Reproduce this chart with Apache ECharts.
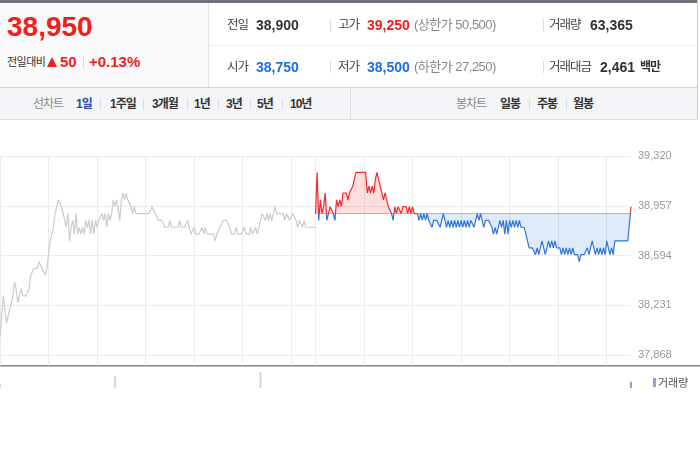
<!DOCTYPE html>
<html><head><meta charset="utf-8">
<script src="https://cdn.jsdelivr.net/npm/echarts@6.0.0/dist/echarts.min.js"></script>
<style>
html,body{margin:0;padding:0;width:700px;height:450px;overflow:hidden;background:#fff;font-family:"Liberation Sans","Noto Sans CJK KR",sans-serif;}
#chart{position:absolute;left:0;top:0;width:700px;height:450px;}
.b{position:absolute;box-sizing:border-box;}
.t{position:absolute;white-space:nowrap;line-height:20px;height:20px;}
.k{font-size:12.5px;color:#444;letter-spacing:-1px;}
.n{font-size:14px;font-weight:bold;color:#333;}
.g{font-size:13px;color:#888;letter-spacing:-0.5px;}
.tab{font-size:12px;font-weight:bold;color:#333;letter-spacing:-1px;top:94px;}
.sep{position:absolute;width:1px;background:#dcdcdc;}
.red{color:#f21d1d;}
.blue{color:#1a6fe6;}
</style></head><body>
<div id="chart"></div>

<div class="b" style="left:0;top:0;width:698px;height:3px;background:#70737b"></div>
<div class="b" style="left:0;top:3px;width:208px;height:85px;background:#fafafa"></div>
<div class="b" style="left:208px;top:3px;width:1px;height:85px;background:#e3e3e3"></div>
<div class="b" style="left:209px;top:45px;width:488px;height:1px;background:#eee"></div>
<div class="b" style="left:697px;top:0;width:1px;height:120px;background:#ccc"></div>
<div class="b" style="left:0;top:87px;width:697px;height:33px;background:#f4f5f8;border-top:1px solid #d5d5d8;border-bottom:1px solid #dcdde0"></div>
<div class="b" style="left:350px;top:88px;width:1px;height:31px;background:#dcdde0"></div>

<div class="t red" style="left:7px;top:11px;font-size:28px;font-weight:bold;line-height:32px;height:32px;">38,950</div>
<div class="t" style="left:7px;top:52px;font-size:11px;color:#333;letter-spacing:-0.5px;">전일대비</div>
<div class="b" style="left:47px;top:57px;width:0;height:0;border-left:5.5px solid transparent;border-right:5.5px solid transparent;border-bottom:10px solid #f21d1d;"></div>
<div class="t red" style="left:60px;top:52px;font-size:15px;font-weight:bold;">50</div>
<div class="sep" style="left:83px;top:57px;height:11px;"></div>
<div class="t red" style="left:89px;top:52px;font-size:15px;font-weight:bold;">+0.13%</div>

<div class="t k" style="left:227px;top:15px;">전일</div>
<div class="t n" style="left:256px;top:15px;">38,900</div>
<div class="sep" style="left:330px;top:19px;height:12px;"></div>
<div class="t k" style="left:338px;top:15px;">고가</div>
<div class="t n red" style="left:367px;top:15px;">39,250</div>
<div class="t g" style="left:414px;top:15px;">(상한가 50,500)</div>
<div class="sep" style="left:543px;top:19px;height:12px;"></div>
<div class="t k" style="left:549px;top:15px;">거래량</div>
<div class="t n" style="left:590px;top:15px;">63,365</div>

<div class="t k" style="left:227px;top:57px;">시가</div>
<div class="t n blue" style="left:256px;top:57px;">38,750</div>
<div class="sep" style="left:330px;top:61px;height:12px;"></div>
<div class="t k" style="left:338px;top:57px;">저가</div>
<div class="t n blue" style="left:367px;top:57px;">38,500</div>
<div class="t g" style="left:414px;top:57px;">(하한가 27,250)</div>
<div class="sep" style="left:543px;top:61px;height:12px;"></div>
<div class="t k" style="left:549px;top:57px;">거래대금</div>
<div class="t n" style="left:600px;top:57px;">2,461</div>
<div class="t" style="left:640px;top:57px;font-size:12px;font-weight:bold;color:#333;letter-spacing:-1px;">백만</div>

<div class="t tab" style="left:33px;color:#888;font-weight:normal;">선차트</div>
<div class="t tab" style="left:76px;color:#2b4ba7;">1일</div>
<div class="sep" style="left:100px;top:99px;height:11px;"></div>
<div class="t tab" style="left:110px;">1주일</div>
<div class="sep" style="left:143px;top:99px;height:11px;"></div>
<div class="t tab" style="left:152px;">3개월</div>
<div class="sep" style="left:187px;top:99px;height:11px;"></div>
<div class="t tab" style="left:194px;">1년</div>
<div class="sep" style="left:218px;top:99px;height:11px;"></div>
<div class="t tab" style="left:226px;">3년</div>
<div class="sep" style="left:250px;top:99px;height:11px;"></div>
<div class="t tab" style="left:257px;">5년</div>
<div class="sep" style="left:282px;top:99px;height:11px;"></div>
<div class="t tab" style="left:290px;">10년</div>

<div class="t tab" style="left:456px;color:#888;font-weight:normal;">봉차트</div>
<div class="t tab" style="left:500px;">일봉</div>
<div class="sep" style="left:529px;top:99px;height:11px;"></div>
<div class="t tab" style="left:537px;">주봉</div>
<div class="sep" style="left:566px;top:99px;height:11px;"></div>
<div class="t tab" style="left:573px;">월봉</div>

<script>
// ---- data ----
const prevClose = 38900;
const yTicks = [37868, 38231, 38594, 38957, 39320];

// previous session, one close every 2 minutes 09:00 .. 15:30
const prevDayPrices = [
38000,38150,38300,38200,38100,38100,38200,38250,38300,38400,
38350,38250,38300,38350,38300,38300,38300,38300,38350,38450,
38450,38500,38500,38500,38550,38550,38500,38500,38450,38500,
38600,38700,38700,38800,38900,38950,39000,39000,38950,38900,
38850,38800,38900,38700,38800,38850,38750,38900,38750,38800,
38750,38800,38750,38850,38800,38850,38750,38850,38750,38850,
38800,38850,38850,38900,38850,38900,38800,38900,38850,38900,
39000,38950,39000,38950,38850,39000,39050,39000,39050,39000,
39000,38950,38900,38950,38900,38900,38900,38900,38900,38900,
38900,38900,38900,38900,38950,38950,38900,38900,38850,38850,
38850,38850,38800,38800,38800,38850,38800,38800,38800,38800,
38800,38850,38800,38800,38800,38800,38850,38800,38750,38750,
38800,38750,38750,38750,38750,38800,38750,38800,38750,38750,
38750,38750,38750,38700,38750,38750,38800,38800,38850,38850,
38850,38850,38800,38750,38750,38750,38800,38750,38750,38750,
38750,38800,38750,38750,38750,38800,38750,38750,38800,38750,
38800,38800,38900,38900,38850,38900,38850,38900,38850,38900,
38950,38900,38900,38900,38900,38900,38850,38900,38900,38850,
38850,38900,38900,38850,38800,38850,38850,38800,38850,38800,
38800,38800,38800,38800,38800,38800
];

// today's session, one close every 2 minutes 09:00 .. 15:30
const todayPrices = [
38900,39200,38850,39000,38900,38950,39050,38850,38900,38950,
38950,38900,38850,39000,38950,39000,38950,39050,39050,39050,
39000,39050,39050,39100,39150,39200,39200,39200,39200,39200,
39200,39200,39050,39100,39050,39100,39050,39150,39200,39150,
39100,39050,39000,39050,39000,38950,38950,38900,38850,38950,
38900,38950,38950,38900,38950,38950,38950,38900,38950,38900,
38950,38900,38900,38900,38850,38900,38850,38900,38850,38900,
38850,38850,38800,38850,38850,38850,38850,38800,38850,38900,
38850,38800,38850,38800,38850,38800,38850,38800,38850,38800,
38850,38800,38850,38800,38850,38800,38850,38850,38800,38850,
38900,38850,38900,38850,38800,38850,38850,38850,38850,38800,
38750,38800,38750,38800,38850,38800,38850,38750,38850,38750,
38850,38800,38850,38800,38850,38800,38850,38800,38800,38800,
38750,38700,38650,38650,38650,38650,38600,38650,38600,38650,
38700,38650,38600,38650,38700,38650,38700,38650,38700,38650,
38650,38650,38600,38650,38600,38650,38600,38650,38600,38650,
38600,38600,38600,38550,38600,38600,38600,38600,38650,38600,
38650,38700,38650,38600,38650,38600,38650,38600,38650,38600,
38700,38650,38600,38650,38600,38700,38700,38700,38700,38700,
38700,38700,38700,38700,38700,38950
];

// visible volume bars [time, shares]
const prevVolume = [['전일 09:00', 1800], ['전일 11:22', 5500], ['전일 14:22', 7300]];
const todayVolume = [['15:30', 2800]];

// ---- categories (time slots) ----
function hhmm(m){const h=9+Math.floor(m/60), mm=m%60;return String(h).padStart(2,'0')+':'+String(mm).padStart(2,'0');}
const prevTimes=[]; for(let m=0;m<390;m+=2) prevTimes.push('전일 '+hhmm(m));
const todayTimes=[]; for(let m=0;m<=390;m+=2) todayTimes.push(hhmm(m));
const categories = prevTimes.concat(todayTimes);
const OPEN = prevTimes.length; // index of today's 09:00
const LAST = categories.length-1;
const gap = n => Array(n).fill('-');

const GW = 631;
const chart = echarts.init(document.getElementById('chart'), null, {renderer:'canvas'});
chart.setOption({
  animation:false,
  backgroundColor:'#fff',
  grid:[
    {left:0, top:156, width:GW, height:209.5},
    {left:0, top:156, width:GW, height:199},
    {left:0, top:366, width:GW, height:22}
  ],
  xAxis:[
    {type:'category', gridIndex:0, data:categories, boundaryGap:false,
     axisLine:{show:false}, axisTick:{show:false}, axisLabel:{show:false},
     splitLine:{show:true, interval:(i)=> i<OPEN ? i%30===0 : (i<LAST && (i-OPEN)%30===0),
       lineStyle:{color:'#ececec', width:1}}},
    {type:'category', gridIndex:1, data:categories, boundaryGap:false, show:false},
    {type:'category', gridIndex:2, data:categories, boundaryGap:false, show:false}
  ],
  yAxis:[
    {type:'value', gridIndex:0, show:false, min:0, max:1},
    {type:'value', gridIndex:1, position:'right', min:yTicks[0], max:yTicks[yTicks.length-1], interval:363,
     axisLine:{show:false}, axisTick:{show:false},
     axisLabel:{margin:7, color:'#999', fontSize:11, fontFamily:'Liberation Sans',
       formatter:v=>Math.round(v).toLocaleString('en-US')},
     splitLine:{lineStyle:{color:'#ececec', width:1}}},
    {type:'value', gridIndex:2, show:false, min:0, max:10000}
  ],
  visualMap:{show:false, type:'piecewise', seriesIndex:1, dimension:1,
    pieces:[{gt:30000, lte:prevClose, color:'#2f75dc'},{gt:prevClose, lte:50000, color:'#f5282d'}],
    outOfRange:{color:'#2f75dc'}},
  legend:{data:['거래량'], left:648, top:372, icon:'rect', itemWidth:3, itemHeight:9, selectedMode:false,
    textStyle:{fontSize:11, color:'#555', fontFamily:'Noto Sans CJK KR', padding:[0,0,0,-3]}},
  graphic:[{type:'line', silent:true, shape:{x1:0,y1:365.8,x2:700,y2:365.8}, style:{stroke:'#85858d', lineWidth:1.6}}],
  series:[
    {name:'전일', type:'line', xAxisIndex:1, yAxisIndex:1, data:prevDayPrices.concat(gap(LAST-OPEN)),
     symbol:'none', lineStyle:{color:'#cbcbd0', width:1.2}, silent:true},
    {name:'당일', type:'line', xAxisIndex:1, yAxisIndex:1, data:gap(OPEN).concat(todayPrices),
     symbol:'none', lineStyle:{width:1.2}, areaStyle:{origin:prevClose, opacity:0.15}, silent:true,
     markLine:{silent:true, symbol:'none', label:{show:false}, lineStyle:{color:'#777', type:'dotted', width:1},
       data:[[{coord:[categories[OPEN], prevClose]},{coord:[categories[LAST], prevClose]}]]}},
    {name:'전일거래량', type:'bar', xAxisIndex:2, yAxisIndex:2, data:prevVolume, barWidth:2, barGap:'-100%',
     itemStyle:{color:'#d7d7dd'}, silent:true},
    {name:'거래량', type:'bar', xAxisIndex:2, yAxisIndex:2, data:todayVolume, barWidth:2, barGap:'-100%',
     itemStyle:{color:'#a596d9'}, silent:true}
  ]
});
</script>
</body></html>
